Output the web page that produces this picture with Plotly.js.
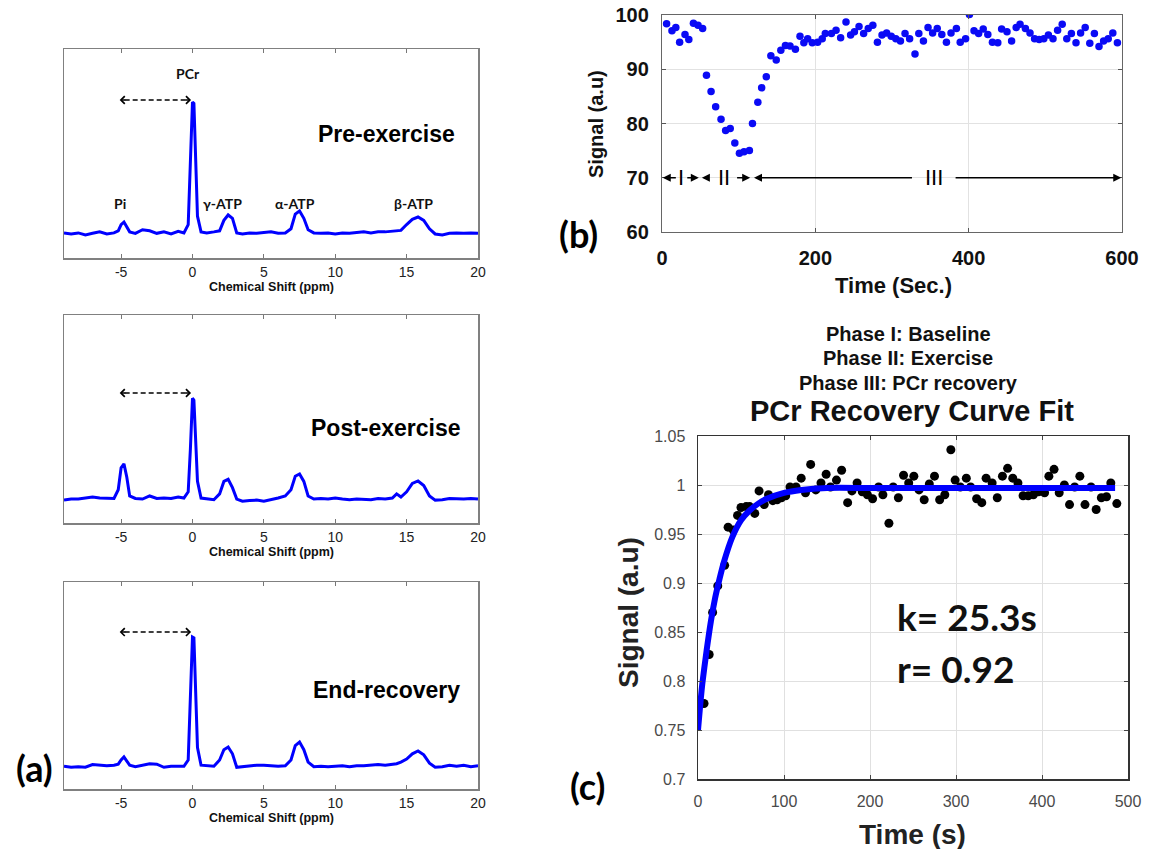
<!DOCTYPE html>
<html>
<head>
<meta charset="utf-8">
<script src="https://cdn.plot.ly/plotly-3.0.1.min.js"></script>
<style>html,body{margin:0;padding:0;background:#fff;}#chart{width:1157px;height:849px;}</style>
</head>
<body>
<div id="chart"></div>
<script>
// ---------- DATA ----------
// Panel (a): 31P spectra (chemical shift in ppm, normalised intensity)
const ppm = [-9,-8.5,-8,-7.5,-7,-6.5,-6,-5.5,-5.2,-5,-4.8,-4.6,-4.4,-4,
  -3.5,-3,-2.5,-2,-1.5,-1,-0.6,-0.3,-0.15,
  0,0.1,0.2,0.35,0.6,
  1,1.5,1.9,2.2,2.5,2.8,3.1,3.5,
  4,4.5,5,5.5,6,6.5,6.9,
  7.2,7.5,7.8,8.1,8.5,
  9,9.5,10,10.5,11,11.5,12,12.5,13,13.5,14,
  14.3,14.6,15,15.4,15.8,16.2,16.6,17,
  17.5,18,18.5,19,19.5,20];
const preExercise = [0.12,0.115,0.12,0.11,0.118,0.125,0.115,0.12,0.13,0.16,0.172,0.15,0.125,0.118,
  0.135,0.13,0.118,0.125,0.115,0.128,0.12,0.16,0.42,
  0.746,0.74,0.5,0.2,0.125,
  0.12,0.125,0.13,0.18,0.206,0.19,0.12,0.115,
  0.12,0.118,0.12,0.125,0.118,0.12,0.14,
  0.21,0.225,0.19,0.135,0.12,
  0.118,0.12,0.115,0.12,0.118,0.12,0.125,0.12,0.125,0.125,0.128,
  0.13,0.132,0.16,0.185,0.196,0.18,0.14,0.115,
  0.11,0.118,0.12,0.118,0.12,0.118];
const postExercise = [0.11,0.115,0.115,0.12,0.125,0.12,0.118,0.118,0.16,0.265,0.284,0.22,0.13,0.118,
  0.115,0.13,0.118,0.12,0.118,0.125,0.12,0.15,0.35,
  0.60,0.59,0.42,0.2,0.12,
  0.115,0.112,0.14,0.2,0.21,0.17,0.115,0.105,
  0.108,0.11,0.105,0.112,0.12,0.13,0.16,
  0.225,0.236,0.2,0.13,0.115,
  0.118,0.115,0.12,0.115,0.112,0.115,0.115,0.112,0.118,0.115,0.12,
  0.14,0.125,0.15,0.19,0.202,0.18,0.13,0.11,
  0.112,0.118,0.115,0.115,0.118,0.115];
const endRecovery = [0.11,0.105,0.108,0.105,0.118,0.115,0.112,0.115,0.12,0.14,0.155,0.135,0.115,0.108,
  0.115,0.122,0.12,0.105,0.11,0.112,0.11,0.14,0.4,
  0.734,0.73,0.48,0.2,0.115,
  0.112,0.11,0.14,0.19,0.203,0.17,0.105,0.108,
  0.112,0.115,0.115,0.112,0.11,0.112,0.14,
  0.21,0.227,0.19,0.13,0.108,
  0.11,0.108,0.11,0.112,0.108,0.112,0.112,0.115,0.118,0.115,0.118,
  0.122,0.13,0.145,0.17,0.184,0.165,0.125,0.105,
  0.108,0.115,0.11,0.115,0.108,0.112];
const spectrumTicks = [-5,0,5,10,15,20];
const spectrumTickText = ['-5','0','5','10','15','20'];
const spectrumNames = ['Pre-exercise','Post-exercise','End-recovery'];
const peakNames = ['PCr','Pi','γ-ATP','α-ATP','β-ATP'];

// Panel (b): PCr signal over time
const timeB = [6,13,18,23,30,35,41,47,53,58,64,70,77,83,89,95,101,107,114,118,125,130,136,142,149,155,161,167,174,180,
  185,190,196,203,209,213,221,227,233,240,246,251,257,263,269,275,281,287,293,299,305,311,317,323,330,335,341,347,353,359,
  365,371,377,384,389,396,401,407,413,419,425,431,438,443,450,456,462,467,474,480,486,492,498,504,510,516,522,528,534,540,
  546,552,558,564,570,576,582,588,594];
const signalB = [98.4,97.1,97.7,95.0,96.4,95.5,98.5,98.1,97.5,88.9,85.9,83.1,80.8,78.7,79.1,76.4,74.5,74.8,75.0,80.0,83.9,86.6,88.6,92.5,91.7,93.5,94.4,94.3,93.7,96.1,
  94.9,95.6,94.9,95.0,95.6,96.6,96.6,97.2,95.8,98.7,96.3,96.9,97.9,96.6,97.5,98.1,95.0,96.3,96.7,96.1,95.6,95.2,96.6,95.6,92.8,96.6,95.2,97.7,96.7,97.5,
  96.4,95.0,96.7,97.5,95.0,95.6,100.1,97.1,96.6,97.4,96.4,95.0,94.9,97.4,96.9,95.2,97.7,98.3,97.5,96.7,95.6,95.5,95.6,96.3,95.6,97.2,98.3,95.6,96.6,94.9,
  96.7,97.7,94.8,96.6,94.2,95.2,95.6,96.7,94.9];
const phaseLabels = ['I','II','III'];

// Panel (c): PCr recovery data and fitted curve
const timeC = [0,7,13,17,23,31,35,41,46,50,56,60,66,71,77,82,87,92,97,102,107,114,120,125,131,137,143,149,154,161,
  167,174,179,185,191,197,203,210,215,222,227,233,239,245,251,257,263,269,275,281,287,294,299,305,312,317,324,330,335,342,
  348,354,360,366,372,378,384,390,396,403,408,414,420,426,432,438,444,450,457,463,469,475,480,487];
const signalC = [0.774,0.777,0.827,0.870,0.897,0.918,0.957,0.954,0.969,0.977,0.978,0.978,0.971,0.994,0.980,0.990,0.984,0.985,0.987,0.989,
  0.998,0.998,1.007,0.992,1.021,0.995,1.002,1.011,0.998,1.005,1.015,0.982,0.994,1.002,0.993,0.990,0.986,0.998,0.990,0.961,
  0.998,0.987,1.010,1.002,1.009,0.995,0.985,1.001,1.009,0.985,0.990,1.036,1.005,0.998,1.007,0.998,0.986,0.982,1.007,1.002,
  0.987,1.009,1.017,1.007,1.002,0.989,0.989,0.990,0.993,0.992,1.009,1.016,0.992,1.000,0.980,0.998,1.009,0.980,0.998,0.975,
  0.987,0.988,1.002,0.981];
const fitTime = [0,2,5,10,15,20,25,30,40,50,60,70,80,100,120,150,200,300,400,485];
const fitSignal = [0.75,0.77,0.797,0.831,0.861,0.885,0.904,0.921,0.947,0.964,0.974,0.981,0.986,0.992,0.995,0.997,0.997,0.997,0.997,0.997];
const yTickValsC = [0.7,0.75,0.8,0.85,0.9,0.95,1,1.05];
const yTickTextC = ['0.7','0.75','0.8','0.85','0.9','0.95','1','1.05'];
const fitStats = ['k= 25.3s','r= 0.92'];
const titleLinesC = ['Phase I: Baseline','Phase II: Exercise','Phase III: PCr recovery'];

// ---------- LAYOUT HELPERS ----------
const W = 1157, H = 849;
const PX = x => x / W;
const PY = y => 1 - y / H;
const ARIAL = 'Liberation Sans, Arial, sans-serif';
const CALIBRI = 'Lato, Open Sans, sans-serif';

const specBoxes = [[49,258],[315,523],[582,789]];
const spectra = [preExercise, postExercise, endRecovery];
const arrowLevels = [0.756, 0.625, 0.758];

const traces = [];
const layout = {
  width: W, height: H,
  margin: {l:0, r:0, t:0, b:0},
  paper_bgcolor: '#fff', plot_bgcolor: '#fff',
  showlegend: false,
  annotations: [], shapes: []
};
// text label helper (centered on the given pixel position)
function label(text, x, y, font, extra) {
  layout.annotations.push(Object.assign({xref: 'paper', yref: 'paper', x: PX(x), y: PY(y), text: text,
    showarrow: false, xanchor: 'center', yanchor: 'middle', font: font}, extra || {}));
}

spectra.forEach((s, i) => {
  const n = i + 1;
  const xa = n === 1 ? 'x' : 'x' + n, ya = n === 1 ? 'y' : 'y' + n;
  const xk = n === 1 ? 'xaxis' : 'xaxis' + n, yk = n === 1 ? 'yaxis' : 'yaxis' + n;
  traces.push({x: ppm, y: s, xaxis: xa, yaxis: ya, mode: 'lines', line: {color: '#0000ff', width: 3}, hoverinfo: 'skip'});
  const [t, b] = specBoxes[i];
  layout[xk] = {domain: [PX(64), PX(478)], anchor: ya, range: [-9, 20], tickvals: spectrumTicks, ticktext: spectrumTickText,
    ticks: 'inside', ticklen: 4, tickcolor: '#777', showline: true, linecolor: '#808080', linewidth: 1.5,
    mirror: 'ticks', showgrid: false, zeroline: false, ticklabelstandoff: 1,
    tickfont: {family: ARIAL, size: 14, color: '#222'}};
  layout[yk] = {domain: [PY(b), PY(t)], anchor: xa, range: [0, 1], showticklabels: false, ticks: '',
    showline: true, linecolor: '#808080', linewidth: 1.5, mirror: true, showgrid: false, zeroline: false};
  label('Chemical Shift (ppm)', 271, b + 29, {family: ARIAL, size: 12.5, color: '#111', weight: 'bold'});
  label(spectrumNames[i], 386, [134, 428, 690][i], {family: ARIAL, size: 23, color: '#000', weight: 'bold'});
  // dashed double arrow from Pi to PCr
  const yl = arrowLevels[i];
  layout.shapes.push({type: 'line', xref: xa, yref: ya, x0: -4.75, x1: -0.45, y0: yl, y1: yl,
    line: {color: '#000', width: 1.5, dash: '5px,3px'}});
  layout.annotations.push({xref: xa, yref: ya, axref: xa, ayref: ya, x: -5.1, y: yl, ax: -4.6, ay: yl, text: '',
    showarrow: true, arrowhead: 4, arrowsize: 1, arrowwidth: 1.5, arrowcolor: '#000'});
  layout.annotations.push({xref: xa, yref: ya, axref: xa, ayref: ya, x: -0.1, y: yl, ax: -0.6, ay: yl, text: '',
    showarrow: true, arrowhead: 4, arrowsize: 1, arrowwidth: 1.5, arrowcolor: '#000'});
});

// peak labels (top spectrum)
const peakPos = [[-0.33, 0.885], [-5.1, 0.263], [2.1, 0.263], [7.15, 0.263], [15.5, 0.263]];
peakNames.forEach((p, i) => {
  layout.annotations.push({xref: 'x', yref: 'y', x: peakPos[i][0], y: peakPos[i][1], text: p, showarrow: false,
    xanchor: 'center', yanchor: 'middle', font: {family: CALIBRI, size: 14, color: '#111', weight: 'bold'}});
});

// ---------- Panel (b) ----------
traces.push({x: timeB, y: signalB, xaxis: 'x4', yaxis: 'y4', mode: 'markers',
  marker: {color: '#0a0af5', size: 7.5}, hoverinfo: 'skip'});
layout.xaxis4 = {domain: [PX(662), PX(1122)], anchor: 'y4', range: [0, 600], tickvals: [0, 200, 400, 600],
  ticks: 'inside', ticklen: 4, tickcolor: '#555', showline: true, linecolor: '#666', linewidth: 1.2, mirror: 'ticks',
  showgrid: true, gridcolor: '#e2e2e2', zeroline: false, ticklabelstandoff: 8,
  tickfont: {family: ARIAL, size: 20, color: '#111', weight: 'bold'}};
layout.yaxis4 = {domain: [PY(232), PY(15)], anchor: 'x4', range: [60, 100], tickvals: [60, 70, 80, 90, 100],
  ticks: 'inside', ticklen: 4, tickcolor: '#555', showline: true, linecolor: '#666', linewidth: 1.2, mirror: 'ticks',
  showgrid: true, gridcolor: '#e2e2e2', zeroline: false, ticklabelstandoff: 8,
  tickfont: {family: ARIAL, size: 20, color: '#111', weight: 'bold'}};
label('Signal (a.u)', 596, 124, {family: ARIAL, size: 20, color: '#111', weight: 'bold'}, {textangle: -90});
label('Time (Sec.)', 893, 286, {family: ARIAL, size: 22, color: '#111', weight: 'bold'});
// phase arrows
const phaseArrows = [[20, 1], [31, 48], [62, 52], [96, 115], [328, 120], [381, 599]];
phaseArrows.forEach(([tail, head]) => {
  layout.annotations.push({xref: 'x4', yref: 'y4', axref: 'x4', ayref: 'y4', x: head, y: 70, ax: tail, ay: 70,
    text: '', showarrow: true, arrowhead: 2, arrowsize: 1, arrowwidth: 1.6, arrowcolor: '#000'});
});
[25, 81, 355].forEach((t, i) => {
  layout.annotations.push({xref: 'x4', yref: 'y4', x: t, y: 70, text: phaseLabels[i], showarrow: false,
    xanchor: 'center', yanchor: 'middle', font: {family: ARIAL, size: 22, color: '#000'}});
});

// ---------- Panel (c) ----------
traces.push({x: timeC, y: signalC, xaxis: 'x5', yaxis: 'y5', mode: 'markers',
  marker: {color: '#000', size: 9}, hoverinfo: 'skip'});
traces.push({x: fitTime, y: fitSignal, xaxis: 'x5', yaxis: 'y5', mode: 'lines',
  line: {color: '#0000ff', width: 6, shape: 'spline', smoothing: 0.6}, hoverinfo: 'skip'});
layout.xaxis5 = {domain: [PX(698), PX(1128)], anchor: 'y5', range: [0, 500], tickvals: [0, 100, 200, 300, 400, 500],
  ticks: 'inside', ticklen: 4, tickcolor: '#444', showline: true, linecolor: '#333', linewidth: 1.5, mirror: 'ticks',
  showgrid: true, gridcolor: '#e0e0e0', zeroline: false, ticklabelstandoff: 7,
  tickfont: {family: ARIAL, size: 16, color: '#4a4a4a'}};
layout.yaxis5 = {domain: [PY(779), PY(436)], anchor: 'x5', range: [0.7, 1.05], tickvals: yTickValsC, ticktext: yTickTextC,
  ticks: 'inside', ticklen: 4, tickcolor: '#444', showline: true, linecolor: '#333', linewidth: 1.5, mirror: 'ticks',
  showgrid: true, gridcolor: '#e0e0e0', zeroline: false, ticklabelstandoff: 8,
  tickfont: {family: ARIAL, size: 16, color: '#4a4a4a'}};
titleLinesC.forEach((s, i) => {
  label(s, 908, [334, 358, 383][i], {family: ARIAL, size: 20, color: '#111', weight: 'bold'});
});
label('PCr Recovery Curve Fit', 912, 411, {family: ARIAL, size: 29, color: '#111', weight: 'bold'});
label('Signal (a.u)', 628, 613, {family: ARIAL, size: 28, color: '#222', weight: 'bold'}, {textangle: -90});
label('Time (s)', 912, 834, {family: ARIAL, size: 28, color: '#222', weight: 'bold'});
fitStats.forEach((s, i) => {
  label(s, 895, [616, 668][i], {family: CALIBRI, size: 37, color: '#111', weight: 'bold'}, {xanchor: 'left'});
});

// ---------- Panel letters ----------
[['(a)', 34, 768], ['(b)', 578, 234], ['(c)', 587, 786]].forEach(([s, x, y]) => {
  label(s, x, y, {family: CALIBRI, size: 36, color: '#000', weight: 'bold'});
});

Plotly.newPlot('chart', traces, layout, {staticPlot: true, displayModeBar: false});
</script>
</body>
</html>
